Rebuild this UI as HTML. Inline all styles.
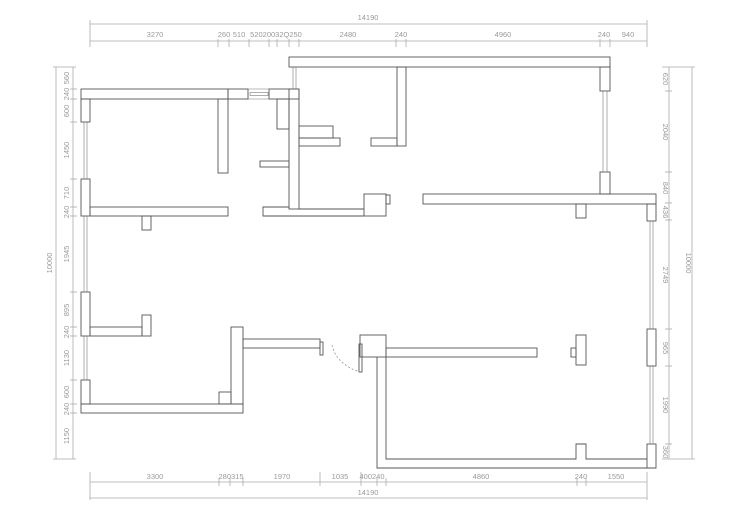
<!DOCTYPE html>
<html><head><meta charset="utf-8"><style>
html,body{margin:0;padding:0;background:#fff;width:750px;height:524px;overflow:hidden}
svg{display:block}
text{font-family:"Liberation Sans",sans-serif;font-size:7.5px;fill:#9a9a9a}
</style></head><body>
<svg width="750" height="524" viewBox="0 0 750 524" xmlns="http://www.w3.org/2000/svg">
<g stroke="#aaa" stroke-width="0.8" fill="none">
<!-- top dims -->
<line x1="90" y1="24" x2="647" y2="24"/>
<line x1="90" y1="41" x2="647" y2="41"/>
<line x1="90" y1="20" x2="90" y2="47"/><line x1="647" y1="20" x2="647" y2="47"/>
<g>
<line x1="218" y1="39" x2="218" y2="47"/><line x1="229" y1="39" x2="229" y2="47"/><line x1="249" y1="39" x2="249" y2="47"/><line x1="269" y1="39" x2="269" y2="47"/><line x1="277" y1="39" x2="277" y2="47"/><line x1="289" y1="39" x2="289" y2="47"/><line x1="299" y1="39" x2="299" y2="47"/><line x1="396" y1="39" x2="396" y2="47"/><line x1="406" y1="39" x2="406" y2="47"/><line x1="600" y1="39" x2="600" y2="47"/><line x1="610" y1="39" x2="610" y2="47"/>
</g>
<!-- bottom dims -->
<line x1="90" y1="482" x2="647" y2="482"/>
<line x1="90" y1="498" x2="647" y2="498"/>
<line x1="90" y1="472" x2="90" y2="500"/><line x1="647" y1="472" x2="647" y2="500"/>
<line x1="219" y1="478" x2="219" y2="486"/><line x1="230" y1="478" x2="230" y2="486"/><line x1="243" y1="478" x2="243" y2="486"/><line x1="320" y1="472" x2="320" y2="486"/><line x1="361" y1="472" x2="361" y2="486"/><line x1="377" y1="478" x2="377" y2="486"/><line x1="386" y1="478" x2="386" y2="486"/><line x1="577" y1="478" x2="577" y2="486"/><line x1="586" y1="478" x2="586" y2="486"/>
<!-- left dims -->
<line x1="56" y1="67" x2="56" y2="459"/>
<line x1="73" y1="67" x2="73" y2="459"/>
<line x1="53" y1="67" x2="76" y2="67"/><line x1="53" y1="459" x2="76" y2="459"/>
<line x1="70" y1="89" x2="77" y2="89"/><line x1="70" y1="99" x2="77" y2="99"/><line x1="70" y1="122" x2="77" y2="122"/><line x1="70" y1="179" x2="77" y2="179"/><line x1="70" y1="207" x2="77" y2="207"/><line x1="70" y1="216" x2="77" y2="216"/><line x1="70" y1="292" x2="77" y2="292"/><line x1="70" y1="327" x2="77" y2="327"/><line x1="70" y1="336" x2="77" y2="336"/><line x1="70" y1="380" x2="77" y2="380"/><line x1="70" y1="404" x2="77" y2="404"/><line x1="70" y1="413" x2="77" y2="413"/>
<!-- right dims -->
<line x1="669" y1="67" x2="669" y2="459"/>
<line x1="692" y1="67" x2="692" y2="459"/>
<line x1="662" y1="67" x2="695" y2="67"/><line x1="662" y1="459" x2="695" y2="459"/>
<line x1="665" y1="91" x2="672" y2="91"/><line x1="665" y1="172" x2="672" y2="172"/><line x1="665" y1="203" x2="672" y2="203"/><line x1="665" y1="220" x2="672" y2="220"/><line x1="665" y1="329" x2="672" y2="329"/><line x1="665" y1="366" x2="672" y2="366"/><line x1="665" y1="444" x2="672" y2="444"/>
</g>
<g>
<text x="368" y="20" text-anchor="middle">14190</text>
<text x="155" y="37" text-anchor="middle">3270</text>
<text x="224" y="37" text-anchor="middle">260</text>
<text x="239" y="37" text-anchor="middle">510</text>
<text x="276" y="37" text-anchor="middle">52020032Q250</text>
<text x="348" y="37" text-anchor="middle">2480</text>
<text x="401" y="37" text-anchor="middle">240</text>
<text x="503" y="37" text-anchor="middle">4960</text>
<text x="604" y="37" text-anchor="middle">240</text>
<text x="628" y="37" text-anchor="middle">940</text>
<text x="155" y="479" text-anchor="middle">3300</text>
<text x="231" y="479" text-anchor="middle">280315</text>
<text x="282" y="479" text-anchor="middle">1970</text>
<text x="340" y="479" text-anchor="middle">1035</text>
<text x="372" y="479" text-anchor="middle">400240</text>
<text x="481" y="479" text-anchor="middle">4860</text>
<text x="581" y="479" text-anchor="middle">240</text>
<text x="616" y="479" text-anchor="middle">1550</text>
<text x="368" y="495" text-anchor="middle">14190</text>
</g>
<g text-anchor="middle">
<text transform="translate(52,263) rotate(-90)">10000</text>
<text transform="translate(69,78) rotate(-90)">560</text>
<text transform="translate(69,94) rotate(-90)">240</text>
<text transform="translate(69,111) rotate(-90)">600</text>
<text transform="translate(69,150) rotate(-90)">1450</text>
<text transform="translate(69,193) rotate(-90)">710</text>
<text transform="translate(69,212) rotate(-90)">240</text>
<text transform="translate(69,254) rotate(-90)">1945</text>
<text transform="translate(69,310) rotate(-90)">895</text>
<text transform="translate(69,332) rotate(-90)">240</text>
<text transform="translate(69,358) rotate(-90)">1130</text>
<text transform="translate(69,392) rotate(-90)">600</text>
<text transform="translate(69,409) rotate(-90)">240</text>
<text transform="translate(69,436) rotate(-90)">1150</text>
<text transform="translate(686,263) rotate(90)">10000</text>
<text transform="translate(663,79) rotate(90)">620</text>
<text transform="translate(663,132) rotate(90)">2040</text>
<text transform="translate(663,188) rotate(90)">840</text>
<text transform="translate(663,212) rotate(90)">436</text>
<text transform="translate(663,275) rotate(90)">2749</text>
<text transform="translate(663,348) rotate(90)">965</text>
<text transform="translate(663,405) rotate(90)">1990</text>
<text transform="translate(663,452) rotate(90)">360</text>
</g>
<g stroke="#555" stroke-width="0.9" fill="none">
<!-- top-left room -->
<rect x="81" y="89" width="147" height="10"/>
<rect x="228" y="89" width="20" height="10"/>
<rect x="269" y="89" width="30" height="10"/>
<rect x="81" y="99" width="9" height="23"/>
<rect x="81" y="179" width="9" height="37"/>
<rect x="218" y="99" width="10" height="74"/>
<rect x="90" y="207" width="138" height="9"/>
<rect x="142" y="216" width="9" height="14"/>
<rect x="289" y="89" width="10" height="120"/>
<polyline points="299,209 364,209"/>
<polyline points="289,207 263,207 263,216 364,216"/>
<rect x="277" y="99" width="12" height="30"/>
<rect x="260" y="161" width="29" height="6"/>
<rect x="299" y="126" width="34" height="12"/>
<rect x="299" y="138" width="41" height="8"/>
<rect x="364" y="194" width="22" height="22"/>
<rect x="386" y="195" width="4" height="9"/>
<!-- top-right room -->
<rect x="289" y="57" width="321" height="10"/>
<rect x="600" y="67" width="10" height="24"/>
<rect x="600" y="172" width="10" height="22"/>
<rect x="397" y="67" width="9" height="79"/>
<rect x="371" y="138" width="26" height="8"/>
<rect x="423" y="194" width="233" height="10"/>
<rect x="576" y="204" width="10" height="14"/>
<rect x="647" y="204" width="9" height="17"/>
<rect x="647" y="329" width="9" height="37"/>
<rect x="647" y="444" width="9" height="24"/>
<!-- bottom left -->
<rect x="81" y="292" width="9" height="44"/>
<rect x="81" y="380" width="9" height="24"/>
<rect x="90" y="327" width="52" height="9"/>
<rect x="142" y="315" width="9" height="21"/>
<rect x="81" y="404" width="162" height="9"/>
<rect x="231" y="327" width="12" height="77"/>
<rect x="219" y="392" width="12" height="12"/>
<rect x="243" y="339" width="77" height="9"/>
<rect x="320" y="342" width="3" height="13"/>
<!-- bottom right -->
<rect x="360" y="335" width="26" height="22"/>
<rect x="359" y="344" width="3" height="28"/>
<rect x="386" y="348" width="151" height="9"/>
<polyline points="377,357 377,468 656,468"/>
<polyline points="386,357 386,459 576,459 576,444 586,444 586,459 647,459"/>
<rect x="576" y="335" width="10" height="30"/>
<rect x="571" y="348" width="5" height="9"/>
</g>
<g stroke="#777" stroke-width="0.6" fill="none">
<!-- windows -->
<line x1="84" y1="122" x2="84" y2="179"/><line x1="87" y1="122" x2="87" y2="179"/>
<line x1="84" y1="216" x2="84" y2="292"/><line x1="87" y1="216" x2="87" y2="292"/>
<line x1="84" y1="336" x2="84" y2="380"/><line x1="87" y1="336" x2="87" y2="380"/>
<line x1="248" y1="89" x2="269" y2="89"/><line x1="248" y1="99" x2="269" y2="99"/>
<rect x="250" y="92.5" width="18" height="3"/>
<line x1="293" y1="67" x2="293" y2="89"/><line x1="296" y1="67" x2="296" y2="89"/>
<line x1="603" y1="91" x2="603" y2="172"/><line x1="607" y1="91" x2="607" y2="172"/>
<line x1="650" y1="221" x2="650" y2="329"/><line x1="653" y1="221" x2="653" y2="329"/>
<line x1="650" y1="366" x2="650" y2="444"/><line x1="653" y1="366" x2="653" y2="444"/>
<path d="M332,345 Q336,364 360,372" stroke-dasharray="2,2"/>
</g>
</svg>
</body></html>
